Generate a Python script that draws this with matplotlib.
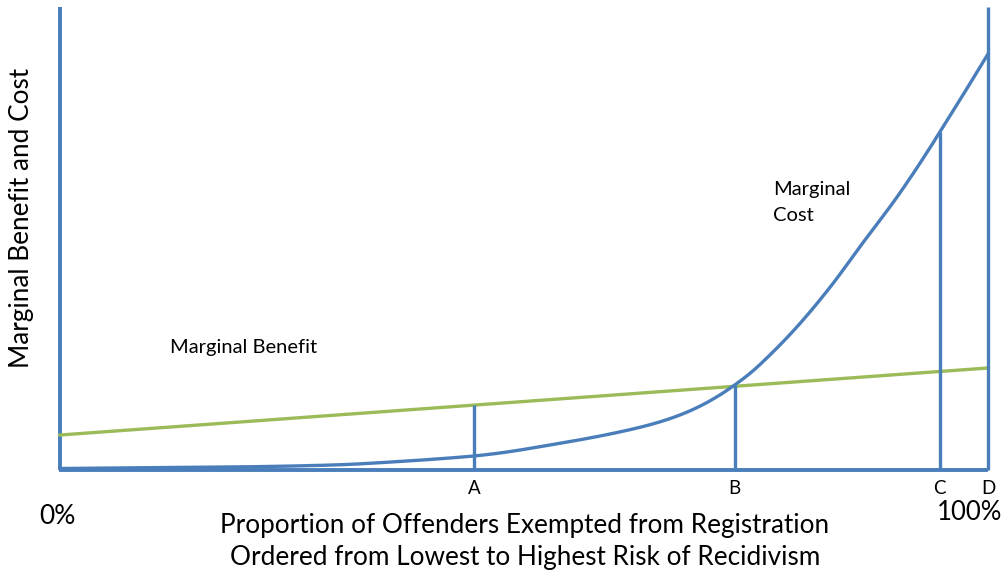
import matplotlib
matplotlib.use("Agg")
import matplotlib.pyplot as plt
import numpy as np

plt.rcParams['font.family'] = ['Lato', 'DejaVu Sans']

# Data (x in % of offenders exempted, y in arbitrary units)
cost_x = [0, 18.6, 29.4, 36.6, 42.0, 44.6, 47.4, 52.8, 58.2, 62.5, 64.7, 66.8, 69.0, 71.1,
          72.7, 74.4, 76.5, 79.4, 83.0, 86.5, 90.2, 93.8, 94.8, 97.3, 100]
cost_y = [1.5, 3, 5, 8.5, 12, 14, 17, 25, 34, 42.7, 48.3, 55, 64, 75,
          85, 97, 115, 143, 183, 227, 273, 323, 338, 375, 416]
benefit_x = [0, 100]
benefit_y = [35, 102]
point_labels = ['A', 'B', 'C', 'D']
point_x = [44.6, 72.7, 94.8, 100]

BLUE = '#4a7ebb'
GREEN = '#9bbb59'

W, H = 1002, 575
fig = plt.figure(figsize=(W / 100, H / 100), dpi=100)
ax = fig.add_axes([60 / W, (H - 470) / H, 928 / W, 463 / H])
ax.set_xlim(0, 100)
ax.set_ylim(0, 463)
ax.axis('off')


def pchip(xk, yk, xq):
    xk = np.asarray(xk, float)
    yk = np.asarray(yk, float)
    h = np.diff(xk)
    d = np.diff(yk) / h
    m = np.zeros_like(xk)
    for i in range(1, len(xk) - 1):
        if d[i - 1] * d[i] > 0:
            w1 = 2 * h[i] + h[i - 1]
            w2 = h[i] + 2 * h[i - 1]
            m[i] = (w1 + w2) / (w1 / d[i - 1] + w2 / d[i])
    m[0] = d[0]
    m[-1] = d[-1]
    idx = np.clip(np.searchsorted(xk, xq) - 1, 0, len(xk) - 2)
    t = (xq - xk[idx]) / h[idx]
    h00 = 2 * t**3 - 3 * t**2 + 1
    h10 = t**3 - 2 * t**2 + t
    h01 = -2 * t**3 + 3 * t**2
    h11 = t**3 - t**2
    return h00 * yk[idx] + h10 * h[idx] * m[idx] + h01 * yk[idx + 1] + h11 * h[idx] * m[idx + 1]


def bx(x):
    return np.interp(x, benefit_x, benefit_y)


def cx(x):
    return float(pchip(cost_x, cost_y, np.array([x]))[0])


# axes lines
ax.plot([0, 0], [0, 463], color=BLUE, lw=2.8, clip_on=False, solid_capstyle='butt')
ax.plot([-0.15, 100], [0, 0], color=BLUE, lw=2.8, clip_on=False, solid_capstyle='butt')

# curves
ax.plot(benefit_x, benefit_y, color=GREEN, lw=2.4, clip_on=False)
xs = np.linspace(0, 100, 600)
ax.plot(xs, pchip(cost_x, cost_y, xs), color=BLUE, lw=2.4, clip_on=False)

# vertical markers
tops = [bx(point_x[0]), cx(point_x[1]), cx(point_x[2]), 463]
for lab, x, t in zip(point_labels, point_x, tops):
    ax.plot([x, x], [0, t], color=BLUE, lw=2.4, clip_on=False, solid_capstyle='butt')
    ax.text(x, -19, lab, ha='center', va='center', fontsize=13.5, clip_on=False)

ax.text(-0.3, -47, '0%', ha='center', va='center', fontsize=19, clip_on=False)
ax.text(98.0, -42, '100%', ha='center', va='center', fontsize=18.5, clip_on=False)

fig.text(525 / W, 1 - 525 / H, 'Proportion of Offenders Exempted from Registration',
         ha='center', va='center', fontsize=18.8)
fig.text(525 / W, 1 - 557 / H, 'Ordered from Lowest to Highest Risk of Recidivism',
         ha='center', va='center', fontsize=18.8)
fig.text(22 / W, 1 - 218 / H, 'Marginal Benefit and Cost', rotation=90,
         ha='center', va='center', fontsize=18.8)

fig.text(170 / W, 1 - 348 / H, 'Marginal Benefit', ha='left', va='center', fontsize=14.5)
fig.text(773 / W, 1 - 190 / H, 'Marginal', ha='left', va='center', fontsize=14.5)
fig.text(773 / W, 1 - 215 / H, 'Cost', ha='left', va='center', fontsize=14.5)

fig.savefig('out.png', dpi=100)
